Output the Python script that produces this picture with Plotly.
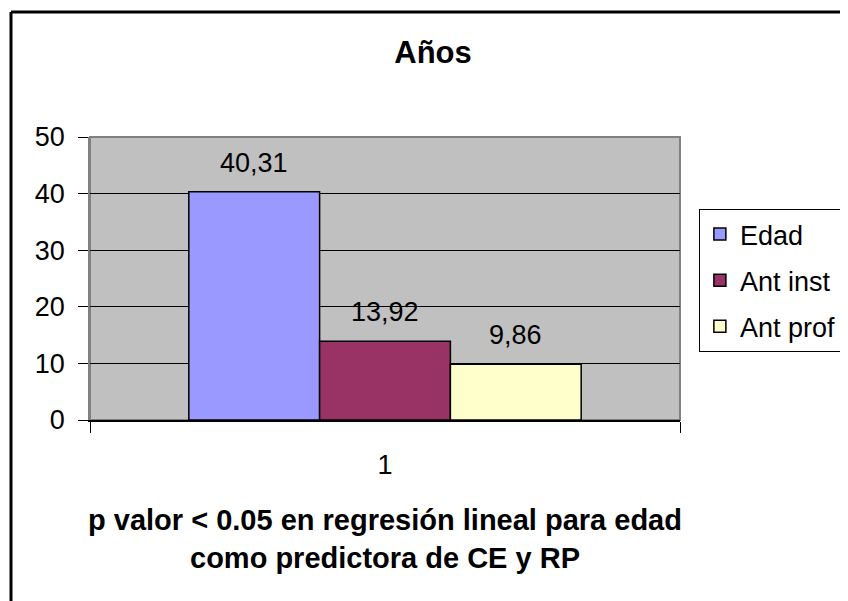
import plotly.graph_objects as go

categories = [1]
series_names = ["Edad", "Ant inst", "Ant prof"]
series_values = [40.31, 13.92, 9.86]
value_labels = ["40,31", "13,92", "9,86"]
y_ticks = [0, 10, 20, 30, 40, 50]

colors = ["#9999FF", "#993366", "#FFFFCC"]
FONT = "Liberation Sans, Arial, sans-serif"
bargap = 0.335

fig = go.Figure()
for i, name in enumerate(series_names):
    fig.add_trace(go.Bar(
        x=categories, y=[series_values[i]], name=name,
        marker=dict(color=colors[i], line=dict(color="#000000", width=1.5)),
        legendgroup=name,
    ))

# data labels above each bar
bw = (1 - bargap) / len(series_names)
for i, v in enumerate(series_values):
    fig.add_annotation(
        x=categories[0] + (i - 1) * bw, y=v, text=value_labels[i],
        showarrow=False, yanchor="middle", yshift=29,
        font=dict(family=FONT, size=27, color="#000000"),
    )

# outer chart border (only left and top edges are visible)
fig.add_shape(type="line", xref="paper", yref="paper",
              x0=-0.1339, x1=-0.1339, y0=-1, y1=1.4417,
              line=dict(color="#000000", width=3), layer="above")
fig.add_shape(type="line", xref="paper", yref="paper",
              x0=-0.1339, x1=1.3, y0=1.4417, y1=1.4417,
              line=dict(color="#000000", width=3), layer="above")
# plot area border
fig.add_shape(type="rect", xref="paper", yref="paper",
              x0=0, x1=1, y0=0, y1=1,
              line=dict(color="#808080", width=2), layer="below")

fig.update_layout(
    width=848, height=601,
    margin=dict(l=82, r=176, t=129, b=189, autoexpand=False),
    paper_bgcolor="#FFFFFF",
    plot_bgcolor="#C0C0C0",
    barmode="group", bargap=bargap, bargroupgap=0,
    font=dict(family=FONT, size=27, color="#000000"),
    title=dict(text="Años", x=0.5012, y=0.9268, xref="container", yref="container",
               xanchor="center", yanchor="middle",
               font=dict(family=FONT, size=31, weight="bold")),
    legend=dict(x=1.032, y=0.7456, xanchor="left", yanchor="top",
                bordercolor="#000000", borderwidth=1, bgcolor="#FFFFFF",
                font=dict(size=27), tracegroupgap=8, traceorder="grouped"),
    showlegend=True,
)

fig.update_xaxes(
    range=[0.5, 1.5], tickvals=categories, ticktext=["1"], ticks="",
    ticklabelstandoff=20,
    showgrid=False, zeroline=False,
    showline=True, linecolor="#000000", linewidth=1.5,
    minor=dict(tickvals=[0.5, 1.5], ticks="outside", ticklen=11,
               tickcolor="#000000", tickwidth=1, showgrid=False),
    title=dict(text="p valor < 0.05 en regresión lineal para edad<br>como predictora de CE y RP",
               standoff=31, font=dict(family=FONT, size=29, weight="bold")),
    tickfont=dict(size=27),
)
fig.update_yaxes(
    range=[0, 50], tickvals=y_ticks, ticks="outside", ticklen=10,
    tickcolor="#000000", tickwidth=1, ticklabelstandoff=8,
    showgrid=True, gridcolor="#000000", gridwidth=1,
    zeroline=False, showline=True, linecolor="#808080", linewidth=1.5,
    tickfont=dict(size=27),
)

fig.write_html("out.html")
